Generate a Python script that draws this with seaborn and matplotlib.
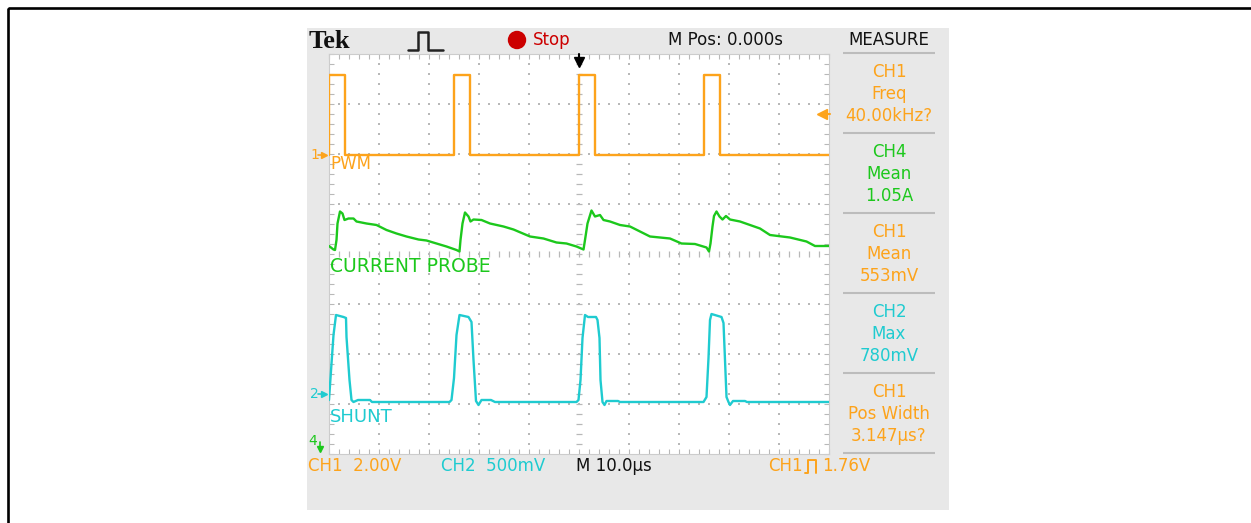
import numpy as np
import pandas as pd
import matplotlib
matplotlib.use("Agg")
import matplotlib.pyplot as plt
import seaborn as sns
from matplotlib.patches import Rectangle, Circle

# ---- captured traces (time in us, trigger at 0, 10 us/div) ----
pwm_t = [-50, -50, -46.8, -46.8, -25, -25, -21.8, -21.8, 0, 0, 3.2, 3.2,
         25, 25, 28.2, 28.2, 50]
pwm_v = [0, 3.2, 3.2, 0, 0, 3.2, 3.2, 0, 0, 3.2, 3.2, 0,
         0, 3.2, 3.2, 0, 0]

cur_t = [-50, -49.1, -48.8, -48.5, -48.3, -47.8, -47.3, -46.9, -46.1, -45.1,
         -44.5, -42.5, -40.5, -38.5, -36.5, -34.5, -32.1, -30.5, -28.5, -26.5,
         -24.5, -23.9, -23.7, -23.3, -22.8, -22.1, -21.7, -21.1, -19.5, -17.8,
         -15.1, -13.1, -9.8, -7.1, -4.5, -2.5, -0.5, 0.9, 1.2, 1.7,
         2.5, 3.2, 4.2, 4.9, 6.2, 8.2, 10.2, 12.2, 14.2, 18.2,
         20.5, 23.2, 25.5, 26.0, 26.3, 26.7, 27.0, 27.5, 28.1, 28.7,
         29.4, 30.2, 32.2, 34.2, 36.2, 38.2, 42.2, 45.5, 47.2, 50]
cur_a = [1.022, 1.015, 1.014, 1.034, 1.067, 1.091, 1.087, 1.074, 1.077, 1.077,
         1.071, 1.067, 1.064, 1.054, 1.047, 1.041, 1.035, 1.033, 1.027, 1.021,
         1.014, 1.011, 1.034, 1.067, 1.089, 1.081, 1.071, 1.075, 1.074, 1.067,
         1.061, 1.055, 1.041, 1.037, 1.029, 1.027, 1.021, 1.015, 1.034, 1.067,
         1.093, 1.081, 1.084, 1.074, 1.071, 1.064, 1.061, 1.051, 1.041, 1.037,
         1.027, 1.026, 1.019, 1.011, 1.027, 1.061, 1.082, 1.091, 1.081, 1.075,
         1.082, 1.075, 1.071, 1.064, 1.057, 1.044, 1.039, 1.031, 1.022, 1.022]

shunt_t = [-50, -49.7, -49.1, -48.6, -47.1, -46.6, -46.5, -45.9, -45.5, -45.1,
           -44.2, -41.8, -41.4, -25.9, -25.5, -25.0, -24.5, -23.9, -22.1, -21.5,
           -21.1, -20.6, -20.1, -19.5, -17.6, -16.8, -0.5, -0.1, 0.3, 0.7,
           1.2, 1.8, 3.4, 3.7, 4.1, 4.3, 4.7, 5.1, 5.5, 7.8,
           8.2, 24.9, 25.5, 25.9, 26.2, 26.5, 28.5, 28.9, 29.2, 29.5,
           29.9, 30.2, 30.8, 33.2, 33.6, 50]
shunt_v = [-0.05, 0.17, 0.60, 0.80, 0.78, 0.77, 0.58, 0.15, -0.05, -0.07,
           -0.05, -0.05, -0.07, -0.07, -0.05, 0.17, 0.60, 0.80, 0.78, 0.73,
           0.35, -0.06, -0.10, -0.05, -0.05, -0.07, -0.07, -0.05, 0.15, 0.57,
           0.80, 0.78, 0.78, 0.75, 0.57, 0.15, -0.07, -0.10, -0.06, -0.06,
           -0.07, -0.07, -0.02, 0.37, 0.75, 0.81, 0.78, 0.72, 0.35, -0.02,
           -0.07, -0.10, -0.06, -0.06, -0.07, -0.07]

# measurement panel
meas_ch = ["CH1", "CH4", "CH1", "CH2", "CH1"]
meas_name = ["Freq", "Mean", "Mean", "Max", "Pos Width"]
meas_val = ["40.00kHz?", "1.05A", "553mV", "780mV", "3.147µs?"]

ORANGE = "#fda31b"
GREEN = "#1cc81c"
CYAN = "#1fcbd0"
GRID = "#b8b8b8"
meas_col = [ORANGE, GREEN, ORANGE, CYAN, ORANGE]

# channel settings: units per division, ground position in divisions
ch1_scale, ch1_pos = 2.0, 1.98
ch2_scale, ch2_pos = 0.5, -2.82
ch4_scale, ch4_pos = 0.1, -10.06

sns.set_theme(style="white")
plt.rcParams['font.family'] = ['DejaVu Sans']

W, H = 1251, 523
fig = plt.figure(figsize=(W / 100, H / 100), dpi=100)

# background in pixel coordinates
bg = fig.add_axes([0, 0, 1, 1], zorder=0)
bg.set_xlim(0, W)
bg.set_ylim(H, 0)
bg.axis('off')
bg.add_patch(Rectangle((7.8, 7.8), W + 100, H + 100, fill=False, edgecolor='black',
                       linewidth=1.9, clip_on=True))
bg.add_patch(Rectangle((307, 28), 642, 482, facecolor='#e8e8e8', edgecolor='none'))

# graticule
ax = fig.add_axes([329 / W, 1 - 454 / H, 500 / W, 400 / H], zorder=1)
ax.set_facecolor('white')
ax.set_xlim(-50, 50)
ax.set_ylim(-4, 4)
for s in ax.spines.values():
    s.set_color('#cccccc')
    s.set_linewidth(0.8)
ax.set_xticks(np.arange(-50, 50.1, 2))
ax.set_yticks(np.arange(-4, 4.01, 0.2))
ax.tick_params(direction='in', length=3.5, width=0.8, color=GRID, top=True, right=True,
               bottom=True, left=True, labelbottom=False, labelleft=False)

gx = np.arange(-48, 48.1, 2)
gy = np.arange(-3.8, 3.81, 0.2)
for yl in [-3, -2, -1, 1, 2, 3]:
    ax.scatter(gx, np.full_like(gx, yl), s=1.6, marker='s', color=GRID, linewidths=0)
for xl in [-40, -30, -20, -10, 10, 20, 30, 40]:
    ax.scatter(np.full_like(gy, xl), gy, s=1.6, marker='s', color=GRID, linewidths=0)
ax.vlines(gx, -0.06, 0.06, color=GRID, lw=0.9)
ax.hlines(gy, -0.6, 0.6, color=GRID, lw=0.9)

pwm = pd.DataFrame({"t": pwm_t, "div": np.array(pwm_v) / ch1_scale + ch1_pos})
cur = pd.DataFrame({"t": cur_t, "div": np.array(cur_a) / ch4_scale + ch4_pos})
shunt = pd.DataFrame({"t": shunt_t, "div": np.array(shunt_v) / ch2_scale + ch2_pos})
for df, col in [(pwm, ORANGE), (cur, GREEN), (shunt, CYAN)]:
    sns.lineplot(data=df, x="t", y="div", sort=False, estimator=None, color=col,
                 linewidth=1.7, ax=ax, zorder=3)
ax.set_xlabel("")
ax.set_ylabel("")

# overlay texts and markers in pixel coordinates
ov = fig.add_axes([0, 0, 1, 1], zorder=2)
ov.set_xlim(0, W)
ov.set_ylim(H, 0)
ov.axis('off')
ov.patch.set_alpha(0)

ov.text(309, 41, "Tek", fontsize=19, fontweight='bold', family=['Liberation Serif', 'DejaVu Serif'],
        ha='left', va='center', color='#111111')
ov.plot([408, 418, 418, 428, 428, 443], [50, 50, 32, 32, 50, 50], color='#222222', lw=1.8)
ov.add_patch(Circle((517, 40), 8.5, color='#cc0000'))
ov.text(533, 40, "Stop", fontsize=12, color='#cc0000', ha='left', va='center')
ov.text(668, 40, "M Pos: 0.000s", fontsize=12, color='#111111', ha='left', va='center')
ov.text(889, 40, "MEASURE", fontsize=12, color='#111111', ha='center', va='center')

ov.hlines([53, 133, 213, 293, 373, 453], 843, 935, color='#bcbcbc', lw=1.5)
for i in range(5):
    y0 = 53 + 80 * i
    ov.text(889, y0 + 19, meas_ch[i], fontsize=12, color=meas_col[i], ha='center', va='center')
    ov.text(889, y0 + 41, meas_name[i], fontsize=12, color=meas_col[i], ha='center', va='center')
    ov.text(889, y0 + 63, meas_val[i], fontsize=12, color=meas_col[i], ha='center', va='center')

ov.text(308, 466, "CH1  2.00V", fontsize=12, color=ORANGE, ha='left', va='center')
ov.text(441, 466, "CH2  500mV", fontsize=12, color=CYAN, ha='left', va='center')
ov.text(576, 466, "M 10.0µs", fontsize=12, color='#111111', ha='left', va='center')
ov.text(768, 466, "CH1", fontsize=12, color=ORANGE, ha='left', va='center')
ov.plot([805, 808, 808, 816, 816], [473, 473, 460, 460, 473], color=ORANGE, lw=1.4)
ov.text(822, 466, "1.76V", fontsize=12, color=ORANGE, ha='left', va='center')

ov.text(330, 164, "PWM", fontsize=12, color=ORANGE, ha='left', va='center')
ov.text(330, 267, "CURRENT PROBE", fontsize=13.5, color=GREEN, ha='left', va='center')
ov.text(330, 417, "SHUNT", fontsize=13, color=CYAN, ha='left', va='center')

# channel ground markers
ov.text(310, 155, "1", fontsize=10, color=ORANGE, ha='left', va='center')
ov.plot([318, 324], [155, 155], color=ORANGE, lw=1.2)
ov.plot([324], [155], marker='>', ms=5, color=ORANGE)
ov.text(310, 394, "2", fontsize=10, color=CYAN, ha='left', va='center')
ov.plot([318, 324], [394, 394], color=CYAN, lw=1.2)
ov.plot([324], [394], marker='>', ms=5, color=CYAN)
ov.text(308, 441, "4", fontsize=10, color=GREEN, ha='left', va='center')
ov.plot([320, 320], [442, 448], color=GREEN, lw=1.2)
ov.plot([320], [449], marker='v', ms=5, color=GREEN)

# trigger markers
ov.plot([579, 579], [54, 60], color='black', lw=1.5)
ov.plot([579], [62], marker='v', ms=7, color='black')
ov.plot([822, 830], [114, 114], color=ORANGE, lw=1.5)
ov.plot([822], [114], marker='<', ms=7, color=ORANGE)

fig.savefig("out.png", dpi=100)
